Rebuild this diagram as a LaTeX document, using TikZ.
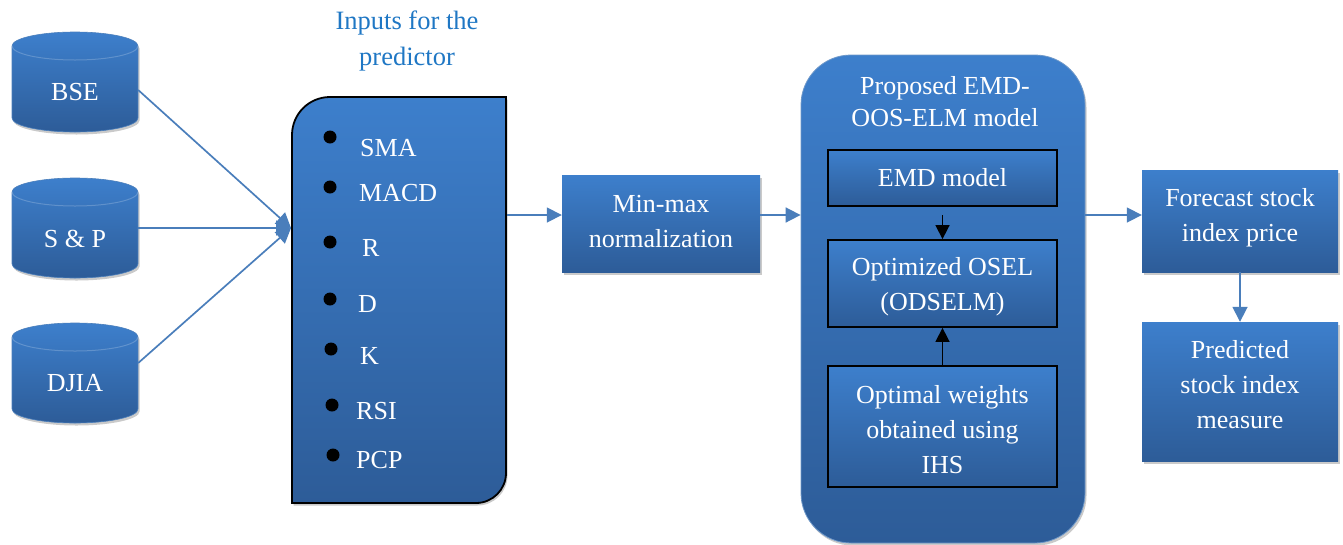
\documentclass[tikz,border=0pt]{standalone}
\usepackage{fontspec}
\setmainfont{Liberation Serif}
\usetikzlibrary{arrows.meta,shadows}
\definecolor{btop}{HTML}{3D7FCC}
\definecolor{bbot}{HTML}{2D5C98}
\definecolor{lineblue}{HTML}{4A7EBB}
\definecolor{titleblue}{HTML}{1F77C4}
\tikzset{
  txt/.style={text=white,font=\fontsize{26}{35}\selectfont,align=center},
  blockfill/.style={top color=btop,bottom color=bbot},
  shad/.style={drop shadow={shadow xshift=1.5pt,shadow yshift=-2.5pt,opacity=0.35,fill=black!60}},
  box/.style={blockfill,shad,draw=none,inner sep=0pt},
  innerbox/.style={blockfill,draw=black,line width=1.8pt,inner sep=0pt},
  conn/.style={draw=lineblue,line width=1.7pt,-{Triangle[length=15pt,width=15pt]}},
  blk/.style={draw=black,line width=1.6pt,-{Triangle[length=14pt,width=14pt]}},
  lbl/.style={text=white,font=\fontsize{26}{35}\selectfont,anchor=west,inner sep=0pt,text height=18pt,text depth=0pt},
  bdot/.style={circle,fill=black,inner sep=0pt,minimum size=13pt},
}
\newcommand\dbcyl[5]{% #1 x centre, #2 top y, #3 name, #4 label, #5 label offset
  \path[blockfill,shad,draw=lineblue,line width=0.6pt] ({#1-63},{-#2-14}) -- ({#1-63},{-#2-86})
    arc[start angle=180,end angle=360,x radius=63,y radius=14] -- ({#1+63},{-#2-14})
    arc[start angle=0,end angle=180,x radius=63,y radius=14] -- cycle;
  \draw[white,opacity=0.2,line width=1pt] ({#1-63},{-#2-14})
    arc[start angle=180,end angle=360,x radius=63,y radius=14];
  \node[txt,minimum width=126pt,inner sep=0pt] (#3) at (#1,{-#2-#5}) {#4};
}
\begin{document}
\begin{tikzpicture}[x=1pt,y=1pt]
\useasboundingbox (0,0) rectangle (1343,-544);

% databases
\dbcyl{75}{32}{bse}{BSE}{60}
\dbcyl{75}{178}{sp}{S \& P}{61}
\dbcyl{75}{323}{dj}{DJIA}{60}

% title
\node[text=titleblue,font=\fontsize{26.5}{36}\selectfont,align=center] (ttl) at (407,-41) {Inputs for the\\predictor};

% inputs box
\path[blockfill,shad,draw=black,line width=1.8pt] (292,-503) -- (292,-135)
  arc[start angle=180,end angle=90,radius=38] -- (506,-97) -- (506,-473)
  arc[start angle=0,end angle=-90,radius=30] -- cycle;
\coordinate (inpin) at (291,-228);
\coordinate (inpout) at (507,-215);

\node[bdot] (d1) at (330,-137) {};
\node[bdot] (d2) at (330,-187) {};
\node[bdot] (d3) at (330,-242) {};
\node[bdot] (d4) at (330,-299) {};
\node[bdot] (d5) at (331,-349) {};
\node[bdot] (d6) at (332,-405) {};
\node[bdot] (d7) at (333,-455) {};
\node[lbl] (l1) at (360,-147) {SMA};
\node[lbl] (l2) at (359,-192) {MACD};
\node[lbl] (l3) at (362,-247) {R};
\node[lbl] (l4) at (358,-303) {D};
\node[lbl] (l5) at (360,-355) {K};
\node[lbl] (l6) at (356,-410) {RSI};
\node[lbl] (l7) at (356,-459) {PCP};

% connectors from databases
\draw[conn] ([yshift=2pt]bse.east) -- (inpin);
\draw[conn] ([yshift=11pt]sp.east) -- (inpin);
\draw[conn] ([yshift=20pt]dj.east) -- (inpin);

% min-max
\node[box,minimum width=198pt,minimum height=97pt] (mm) at (661,-223.5) {};
\node[txt] (mmt) at (661,-222) {Min-max\\normalization};
\draw[conn] (inpout) -- (inpout -| mm.west);

% proposed model
\node[blockfill,shad,draw=lineblue!80,line width=0.8pt,rounded corners=50pt,minimum width=284pt,minimum height=488pt,inner sep=0pt] (big) at (943,-299) {};
\node[txt,font=\fontsize{26}{32}\selectfont] (bigt) at (945,-102) {Proposed EMD-\\OOS-ELM model};
\draw[conn] (mm.east |- inpout) -- (big.west |- inpout);

\node[innerbox,minimum width=229pt,minimum height=56pt] (emd) at (942.5,-178) {};
\node[txt] (emdt) at (942.5,-178) {EMD model};
\node[innerbox,minimum width=229pt,minimum height=87pt] (osel) at (942.5,-283.5) {};
\node[txt] (oselt) at (942.5,-287) {Optimized OSEL\\(ODSELM)};
\node[innerbox,minimum width=229pt,minimum height=121pt] (opt) at (942.5,-426.5) {};
\node[txt] (optt) at (942.5,-430) {Optimal weights\\obtained using\\IHS};
\draw[blk] ([yshift=-8pt]emd.south) -- (osel.north);
\draw[blk] (opt.north) -- (osel.south);

% outputs
\node[box,minimum width=196pt,minimum height=102pt] (fc) at (1240,-221) {};
\node[txt] (fct) at (1240,-218) {Forecast stock\\index price};
\node[box,minimum width=196pt,minimum height=139pt] (pred) at (1240,-391.5) {};
\node[txt] (predt) at (1240,-385) {Predicted\\stock index\\measure};
\draw[conn] (big.east |- inpout) -- (fc.west |- inpout);
\draw[conn] (fc.south) -- (pred.north);
\end{tikzpicture}
\end{document}
